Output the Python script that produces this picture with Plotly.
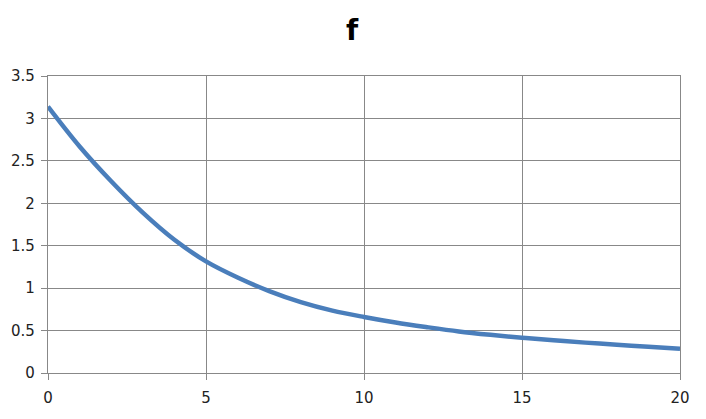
import plotly.graph_objects as go

# values
x_vals = [0, 1, 2, 3, 4, 5, 6, 7, 8, 9, 10, 11, 12, 13, 14, 15, 16, 17, 18, 19, 20]
f_vals = [3.14, 2.67, 2.26, 1.89, 1.57, 1.315, 1.125, 0.965, 0.835, 0.735, 0.66,
          0.595, 0.54, 0.49, 0.45, 0.415, 0.385, 0.358, 0.333, 0.308, 0.285]

x_ticks = [0, 5, 10, 15, 20]
y_ticks = [0, 0.5, 1, 1.5, 2, 2.5, 3, 3.5]

fig = go.Figure()

fig.add_trace(go.Scatter(
    x=x_vals,
    y=f_vals,
    mode='lines',
    line=dict(color='#4A7EBB', width=4.5, shape='spline', smoothing=1),
    showlegend=False
))

axis_style = dict(
    showgrid=True,
    gridcolor='#888888',
    gridwidth=1.2,
    zeroline=False,
    showline=True,
    mirror=True,
    linecolor='#888888',
    linewidth=1.2,
    ticks='outside',
    ticklen=6,
    tickwidth=1.2,
    tickcolor='#888888',
    automargin=False,
    tickfont=dict(family='DejaVu Sans', size=15, color='#222222'),
)

# the page has an 8px body margin, so margins are trimmed to compensate
fig.update_layout(
    title=dict(text='<b>f</b>', x=344 / 706, xanchor='center',
               yref='container', y=1 - 22 / 419, yanchor='middle',
               font=dict(family='DejaVu Sans', size=28, color='#000000')),
    width=706,
    height=419,
    margin=dict(l=40, r=34, t=68, b=54),
    plot_bgcolor='white',
    paper_bgcolor='white',
    xaxis=dict(range=[0, 20], tickvals=x_ticks, ticklabelstandoff=5, **axis_style),
    yaxis=dict(range=[0, 3.5], tickvals=y_ticks, ticklabelstandoff=3, **axis_style),
)

fig.write_html("out.html")
